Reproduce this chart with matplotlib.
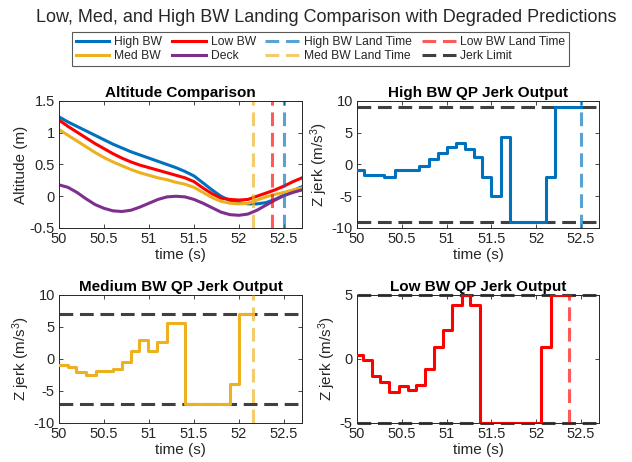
import matplotlib
matplotlib.use("Agg")
import matplotlib.pyplot as plt

plt.rcParams['font.family'] = ['Liberation Sans', 'DejaVu Sans']
plt.rcParams['mathtext.fontset'] = 'custom'
plt.rcParams['mathtext.rm'] = 'Liberation Sans'
plt.rcParams['mathtext.default'] = 'regular'

# ---------------- data ----------------
t_alt = [50.0, 50.1, 50.2, 50.3, 50.4, 50.5, 50.6, 50.7, 50.8, 50.9,
         51.0, 51.1, 51.2, 51.3, 51.4, 51.5, 51.6, 51.7, 51.8, 51.9,
         52.0, 52.1, 52.2, 52.3, 52.4, 52.5, 52.6, 52.7]
alt_high = [1.25, 1.17, 1.10, 1.03, 0.96, 0.89, 0.82, 0.76, 0.70, 0.65,
            0.60, 0.55, 0.50, 0.45, 0.39, 0.32, 0.21, 0.10, 0.00, -0.07,
            -0.10, -0.12, -0.12, -0.10, -0.05, 0.02, 0.09, 0.15]
alt_low = [1.20, 1.10, 1.01, 0.92, 0.83, 0.75, 0.67, 0.60, 0.54, 0.49,
           0.45, 0.41, 0.37, 0.33, 0.29, 0.23, 0.13, 0.04, -0.03, -0.05,
           -0.06, -0.05, 0.00, 0.05, 0.10, 0.16, 0.23, 0.29]
alt_med = [1.05, 0.96, 0.87, 0.78, 0.69, 0.61, 0.54, 0.48, 0.42, 0.37,
           0.33, 0.29, 0.26, 0.22, 0.19, 0.14, 0.06, -0.02, -0.08, -0.11,
           -0.12, -0.11, -0.06, -0.01, 0.03, 0.06, 0.10, 0.13]
alt_deck = [0.18, 0.14, 0.06, -0.04, -0.13, -0.19, -0.23, -0.24, -0.22, -0.17,
            -0.11, -0.05, -0.01, 0.00, -0.01, -0.05, -0.11, -0.18, -0.25, -0.29,
            -0.30, -0.28, -0.22, -0.14, -0.06, 0.01, 0.06, 0.10]

land_high = 52.5
land_med = 52.15
land_low = 52.37

jerk_lim_high = 9
jerk_lim_med = 7
jerk_lim_low = 5

t_jh = [50.0, 50.075, 50.30, 50.42, 50.69, 50.80, 50.90, 51.00, 51.10, 51.20,
        51.31, 51.40, 51.50, 51.61, 51.71, 52.11, 52.21, 52.50]
j_high = [-0.9, -1.6, -1.9, -0.9, -0.2, 0.9, 1.8, 2.8, 3.4, 2.5,
          1.2, -1.9, -4.9, 4.4, -9.0, -1.9, 9.0, 9.0]

t_jm = [50.0, 50.10, 50.19, 50.30, 50.41, 50.60, 50.70, 50.80, 50.89, 50.99,
        51.09, 51.20, 51.40, 51.90, 52.00, 52.15]
j_med = [-1.0, -1.2, -2.1, -2.5, -1.8, -1.6, -0.4, 1.3, 2.9, 1.3,
         2.6, 5.6, -7.0, -3.9, 7.0, 7.0]

t_jl = [50.0, 50.07, 50.17, 50.26, 50.36, 50.47, 50.57, 50.66, 50.76, 50.86,
        50.96, 51.06, 51.17, 51.26, 51.37, 52.05, 52.16, 52.38]
j_low = [0.3, -0.1, -1.3, -1.8, -2.6, -2.1, -2.4, -2.0, -0.8, 0.9,
         2.3, 4.2, 5.0, 4.2, -5.0, 0.9, 5.0, 5.0]

x_ticks = [50, 50.5, 51, 51.5, 52, 52.5]
x_tick_labels = ['50', '50.5', '51', '51.5', '52', '52.5']

# ---------------- style ----------------
C_BLUE = (0.0, 0.447, 0.741)
C_YEL = (0.929, 0.694, 0.125)
C_PUR = (0.494, 0.184, 0.556)
C_RED = (1.0, 0.0, 0.0)
C_LBLUE = (0.0, 0.447, 0.741, 0.65)
C_LYEL = (0.929, 0.694, 0.125, 0.65)
C_LRED = (1.0, 0.0, 0.0, 0.65)
C_LIM = (0.25, 0.25, 0.25)
TXT = (0.15, 0.15, 0.15)
LW = 2.2
DLW = 2.2
DASH = (4.5, 2.2)

fig = plt.figure(figsize=(6.32, 4.62), dpi=100)
W, H = 632, 462

def add_ax(l, t, r, b):
    return fig.add_axes([l / W, 1 - b / H, (r - l) / W, (b - t) / H])

ax1 = add_ax(59, 101, 302, 228)
ax2 = add_ax(357, 101, 599, 228)
ax3 = add_ax(59, 295, 302, 423)
ax4 = add_ax(357, 295, 599, 423)

def style(ax, title, ylabel):
    ax.set_xlim(50, 52.7)
    ax.set_xticks(x_ticks)
    ax.set_xticklabels(x_tick_labels)
    ax.tick_params(direction='in', length=3, width=0.6, labelsize=10.5,
                   colors=TXT, pad=3, top=True, right=True)
    for s in ax.spines.values():
        s.set_color(TXT)
        s.set_linewidth(0.7)
    ax.set_title(title, fontsize=11, fontweight='bold', color='black', pad=3)
    ax.set_xlabel('time (s)', fontsize=11, color=TXT, labelpad=1)
    ax.set_ylabel(ylabel, fontsize=11, color=TXT, labelpad=1)

def steps(ax, t, v, color):
    ax.plot(t, v, drawstyle='steps-post', color=color, lw=LW, zorder=3)

# Altitude
h_high, = ax1.plot(t_alt, alt_high, color=C_BLUE, lw=LW, label='High BW')
h_low, = ax1.plot(t_alt, alt_low, color=C_RED, lw=LW, label='Low BW')
h_med, = ax1.plot(t_alt, alt_med, color=C_YEL, lw=LW, label='Med BW')
h_deck, = ax1.plot(t_alt, alt_deck, color=C_PUR, lw=LW, label='Deck')
h_lh = ax1.axvline(land_high, color=C_LBLUE, lw=DLW, dashes=DASH, label='High BW Land Time')
h_lm = ax1.axvline(land_med, color=C_LYEL, lw=DLW, dashes=DASH, label='Med BW Land Time')
h_ll = ax1.axvline(land_low, color=C_LRED, lw=DLW, dashes=DASH, label='Low BW Land Time')
ax1.set_ylim(-0.5, 1.5)
ax1.set_yticks([-0.5, 0, 0.5, 1, 1.5])
ax1.set_yticklabels(['-0.5', '0', '0.5', '1', '1.5'])
style(ax1, 'Altitude Comparison', 'Altitude (m)')

# High jerk
for y in (jerk_lim_high, -jerk_lim_high):
    h_lim = ax2.axhline(y, color=C_LIM, lw=DLW, dashes=DASH, zorder=2, label='Jerk Limit')
steps(ax2, t_jh, j_high, C_BLUE)
ax2.axvline(land_high, color=C_LBLUE, lw=DLW, dashes=DASH, zorder=4)
ax2.set_ylim(-10, 10)
ax2.set_yticks([-10, -5, 0, 5, 10])
ax2.set_yticklabels(['-10', '-5', '0', '5', '10'])
style(ax2, 'High BW QP Jerk Output', 'Z jerk (m/s$^3$)')

# Med jerk
for y in (jerk_lim_med, -jerk_lim_med):
    ax3.axhline(y, color=C_LIM, lw=DLW, dashes=DASH, zorder=2)
steps(ax3, t_jm, j_med, C_YEL)
ax3.axvline(land_med, color=C_LYEL, lw=DLW, dashes=DASH, zorder=4)
ax3.set_ylim(-10, 10)
ax3.set_yticks([-10, -5, 0, 5, 10])
ax3.set_yticklabels(['-10', '-5', '0', '5', '10'])
style(ax3, 'Medium BW QP Jerk Output', 'Z jerk (m/s$^3$)')

# Low jerk
for y in (jerk_lim_low, -jerk_lim_low):
    ax4.axhline(y, color=C_LIM, lw=DLW, dashes=DASH, zorder=2, clip_on=False)
steps(ax4, t_jl, j_low, C_RED)
ax4.axvline(land_low, color=C_LRED, lw=DLW, dashes=DASH, zorder=4)
ax4.set_ylim(-5, 5)
ax4.set_yticks([-5, 0, 5])
ax4.set_yticklabels(['-5', '0', '5'])
style(ax4, 'Low BW QP Jerk Output', 'Z jerk (m/s$^3$)')

fig.text(326 / W, 1 - 17 / H, 'Low, Med, and High BW Landing Comparison with Degraded Predictions',
         ha='center', va='center', fontsize=13.0, color=TXT)

handles = [h_high, h_med, h_low, h_deck, h_lh, h_lm, h_ll, h_lim]
labels = ['High BW', 'Med BW', 'Low BW', 'Deck', 'High BW Land Time',
          'Med BW Land Time', 'Low BW Land Time', 'Jerk Limit']
leg = fig.legend(handles, labels, ncol=4, loc='center',
                 bbox_to_anchor=(320.5 / W, 1 - 49 / H), fontsize=8.7,
                 frameon=True, fancybox=False, framealpha=1, edgecolor=(0.35, 0.35, 0.35),
                 handlelength=2.8, handletextpad=0.4, columnspacing=0.8,
                 labelspacing=0.2, borderpad=0.3, borderaxespad=0)
leg.get_frame().set_linewidth(0.8)
for txt in leg.get_texts():
    txt.set_color(TXT)

fig.savefig('out.png', dpi=100)
